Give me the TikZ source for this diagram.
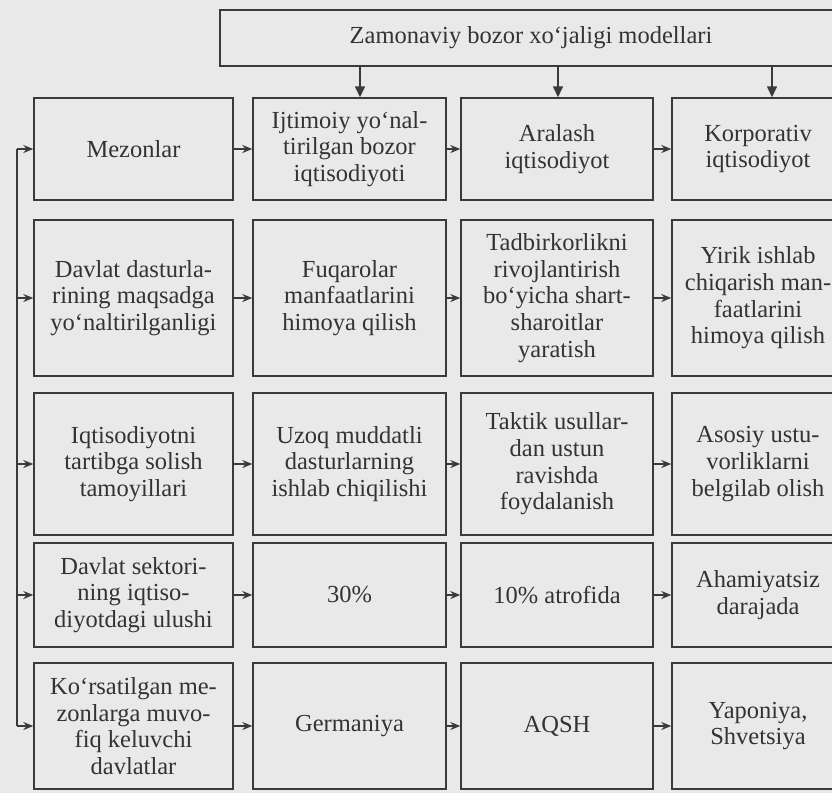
\documentclass[tikz,border=0pt]{standalone}
\usepackage{fontspec}
\setmainfont{Liberation Serif}
\usetikzlibrary{arrows.meta}
\definecolor{bg}{HTML}{E9E9E9}
\definecolor{ink}{HTML}{3A3A3A}
\definecolor{txt}{HTML}{333333}
\tikzset{
  box/.style={draw=ink, line width=1.4pt, fill=bg, rectangle, inner sep=0pt,
    align=center, text=txt, font=\fontsize{24.5}{26.7}\selectfont},
  harr/.style={draw=ink, line width=1.5pt, -{Stealth[length=10pt,width=8pt]}},
  varr/.style={draw=ink, line width=1.4pt, -{Triangle[length=11pt,width=10pt]}},
  bus/.style={draw=ink, line width=1.4pt}
}
\begin{document}
\begin{tikzpicture}[x=1pt,y=-1pt]
\useasboundingbox (0,0) rectangle (832,793);
\clip (0,0) rectangle (832,793);
\fill[bg] (0,0) rectangle (832,793);
% top
\node[box, minimum width=622pt, minimum height=56pt] (top) at (531,38) {Zamonaviy bozor xo‘jaligi modellari};
% row 1
\node[box, minimum width=199pt, minimum height=102pt] (r1c1) at (133.5,149) {Mezonlar};
\node[box, minimum width=193pt, minimum height=102pt] (r1c2) at (349.5,149) {Ijtimoiy yo‘nal-\\tirilgan bozor\\iqtisodiyoti};
\node[box, minimum width=192pt, minimum height=102pt] (r1c3) at (557,149) {Aralash\\iqtisodiyot};
\node[box, minimum width=172pt, minimum height=102pt] (r1c4) at (758,149) {Korporativ\\iqtisodiyot};
% row 2
\node[box, minimum width=199pt, minimum height=156pt] (r2c1) at (133.5,298) {Davlat dasturla-\\rining maqsadga\\yo‘naltirilganligi};
\node[box, minimum width=193pt, minimum height=156pt] (r2c2) at (349.5,298) {Fuqarolar\\manfaatlarini\\himoya qilish};
\node[box, minimum width=192pt, minimum height=156pt] (r2c3) at (557,298) {Tadbirkorlikni\\rivojlantirish\\bo‘yicha shart-\\sharoitlar\\yaratish};
\node[box, minimum width=172pt, minimum height=156pt] (r2c4) at (758,298) {Yirik ishlab\\chiqarish man-\\faatlarini\\himoya qilish};
% row 3
\node[box, minimum width=199pt, minimum height=142pt] (r3c1) at (133.5,464) {Iqtisodiyotni\\tartibga solish\\tamoyillari};
\node[box, minimum width=193pt, minimum height=142pt] (r3c2) at (349.5,464) {Uzoq muddatli\\dasturlarning\\ishlab chiqilishi};
\node[box, minimum width=192pt, minimum height=142pt] (r3c3) at (557,464) {Taktik usullar-\\dan ustun\\ravishda\\foydalanish};
\node[box, minimum width=172pt, minimum height=142pt] (r3c4) at (758,464) {Asosiy ustu-\\vorliklarni\\belgilab olish};
% row 4
\node[box, minimum width=199pt, minimum height=104pt] (r4c1) at (133.5,595) {Davlat sektori-\\ning iqtiso-\\diyotdagi ulushi};
\node[box, minimum width=193pt, minimum height=104pt] (r4c2) at (349.5,595) {30\%};
\node[box, minimum width=192pt, minimum height=104pt] (r4c3) at (557,595) {10\% atrofida};
\node[box, minimum width=172pt, minimum height=104pt] (r4c4) at (758,595) {Ahamiyatsiz\\darajada};
% row 5
\node[box, minimum width=199pt, minimum height=126pt] (r5c1) at (133.5,726) {Ko‘rsatilgan me-\\zonlarga muvo-\\fiq keluvchi\\davlatlar};
\node[box, minimum width=193pt, minimum height=126pt] (r5c2) at (349.5,726) {Germaniya};
\node[box, minimum width=192pt, minimum height=126pt] (r5c3) at (557,726) {AQSH};
\node[box, minimum width=172pt, minimum height=126pt] (r5c4) at (758,726) {Yaponiya,\\Shvetsiya};
% top arrows
\coordinate (a2) at (360,0);
\coordinate (a3) at (558,0);
\coordinate (a4) at (772,0);
\draw[varr] (top.south -| a2) -- (r1c2.north -| a2);
\draw[varr] (top.south -| a3) -- (r1c3.north -| a3);
\draw[varr] (top.south -| a4) -- (r1c4.north -| a4);
% left bus
\coordinate (bus) at (17,0);
\draw[bus] (r1c1.west -| bus) -- (r5c1.west -| bus);
\foreach \r in {1,...,5}{
  \draw[harr] (r\r c1.west -| bus) -- (r\r c1.west);
  \draw[harr] (r\r c1.east) -- (r\r c2.west);
  \draw[harr] (r\r c2.east) -- (r\r c3.west);
  \draw[harr] (r\r c3.east) -- (r\r c4.west);
}
\end{tikzpicture}
\end{document}
